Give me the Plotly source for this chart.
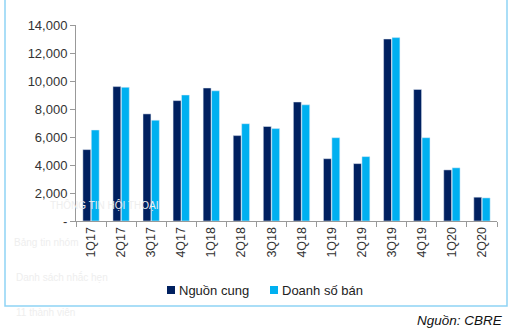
import plotly.graph_objects as go

categories = ["1Q17", "2Q17", "3Q17", "4Q17", "1Q18", "2Q18", "3Q18", "4Q18",
              "1Q19", "2Q19", "3Q19", "4Q19", "1Q20", "2Q20"]
supply = [5100, 9600, 7650, 8600, 9500, 6100, 6750, 8500, 4450, 4100, 13000, 9400, 3650, 1700]
sales = [6500, 9550, 7200, 9000, 9300, 6950, 6600, 8300, 5950, 4600, 13100, 5950, 3800, 1650]
ytick_vals = [0, 2000, 4000, 6000, 8000, 10000, 12000, 14000]
ytick_text = ["-", "2,000", "4,000", "6,000", "8,000", "10,000", "12,000", "14,000"]
series_names = ["Nguồn cung", "Doanh số bán"]
series_colors = ["#002060", "#00b0f0"]

W, H = 515, 334
ML, MR, MT, MB = 76, 18, 25, 113
pw, ph = W - ML - MR, H - MT - MB

def px(x):
    return (x - ML) / pw

def py(y):
    return (H - MB - y) / ph

FONT = "Liberation Sans, Arial, sans-serif"

fig = go.Figure()
fig.add_trace(go.Bar(x=categories, y=supply, name=series_names[0], marker_color=series_colors[0]))
fig.add_trace(go.Bar(x=categories, y=sales, name=series_names[1], marker_color=series_colors[1]))

fig.update_layout(
    width=W, height=H,
    margin=dict(l=ML, r=MR, t=MT, b=MB),
    paper_bgcolor="white", plot_bgcolor="white",
    barmode="group", bargap=0.44, bargroupgap=0.06,
    font=dict(family=FONT, size=13, color="#333333"),
    showlegend=False,
    xaxis=dict(type="category", tickangle=-90, showgrid=False, showline=True,
               linecolor="#999999", linewidth=1, ticks="outside", tickson="boundaries",
               ticklen=5, tickcolor="#999999", tickfont=dict(size=12.5, color="#333333")),
    yaxis=dict(range=[0, 14000], tickvals=ytick_vals, ticktext=ytick_text, showgrid=False,
               showline=True, linecolor="#999999", linewidth=1, ticks="outside", ticklen=5,
               tickcolor="#999999", tickfont=dict(size=13, color="#333333"), zeroline=False),
)

# manual legend
legend_x = [167, 270]
for name, color, lx in zip(series_names, series_colors, legend_x):
    fig.add_shape(type="rect", xref="paper", yref="paper",
                  x0=px(lx), x1=px(lx + 8), y0=py(286), y1=py(294),
                  fillcolor=color, line=dict(width=0))
    fig.add_annotation(text=name, xref="paper", yref="paper", x=px(lx + 10), y=py(290),
                       xanchor="left", yanchor="middle", showarrow=False,
                       font=dict(size=13, color="#222222"))

# light blue border frame
fig.add_shape(type="path", xref="paper", yref="paper",
              path=f"M {px(5)} {py(-5)} L {px(5)} {py(306)} L {px(507)} {py(306)} L {px(507)} {py(-5)}",
              line=dict(color="#8fd3f5", width=1.5))

fig.add_annotation(text="<i>Nguồn: CBRE</i>", xref="paper", yref="paper",
                   x=px(505), y=py(320), xanchor="right", yanchor="middle",
                   showarrow=False, font=dict(size=13.5, color="#111111"))

# faint background UI texts
faint = [("THÔNG TIN HỘI THOẠI", 48, 205), ("Bảng tin nhóm", 12, 242),
         ("Danh sách nhắc hẹn", 14, 277), ("11 thành viên", 14, 312)]
for t, x, y in faint:
    fig.add_annotation(text=t, xref="paper", yref="paper", x=px(x), y=py(y),
                       xanchor="left", yanchor="middle", showarrow=False,
                       font=dict(size=10, color="#eeeeee"))

fig.write_html("out.html")
